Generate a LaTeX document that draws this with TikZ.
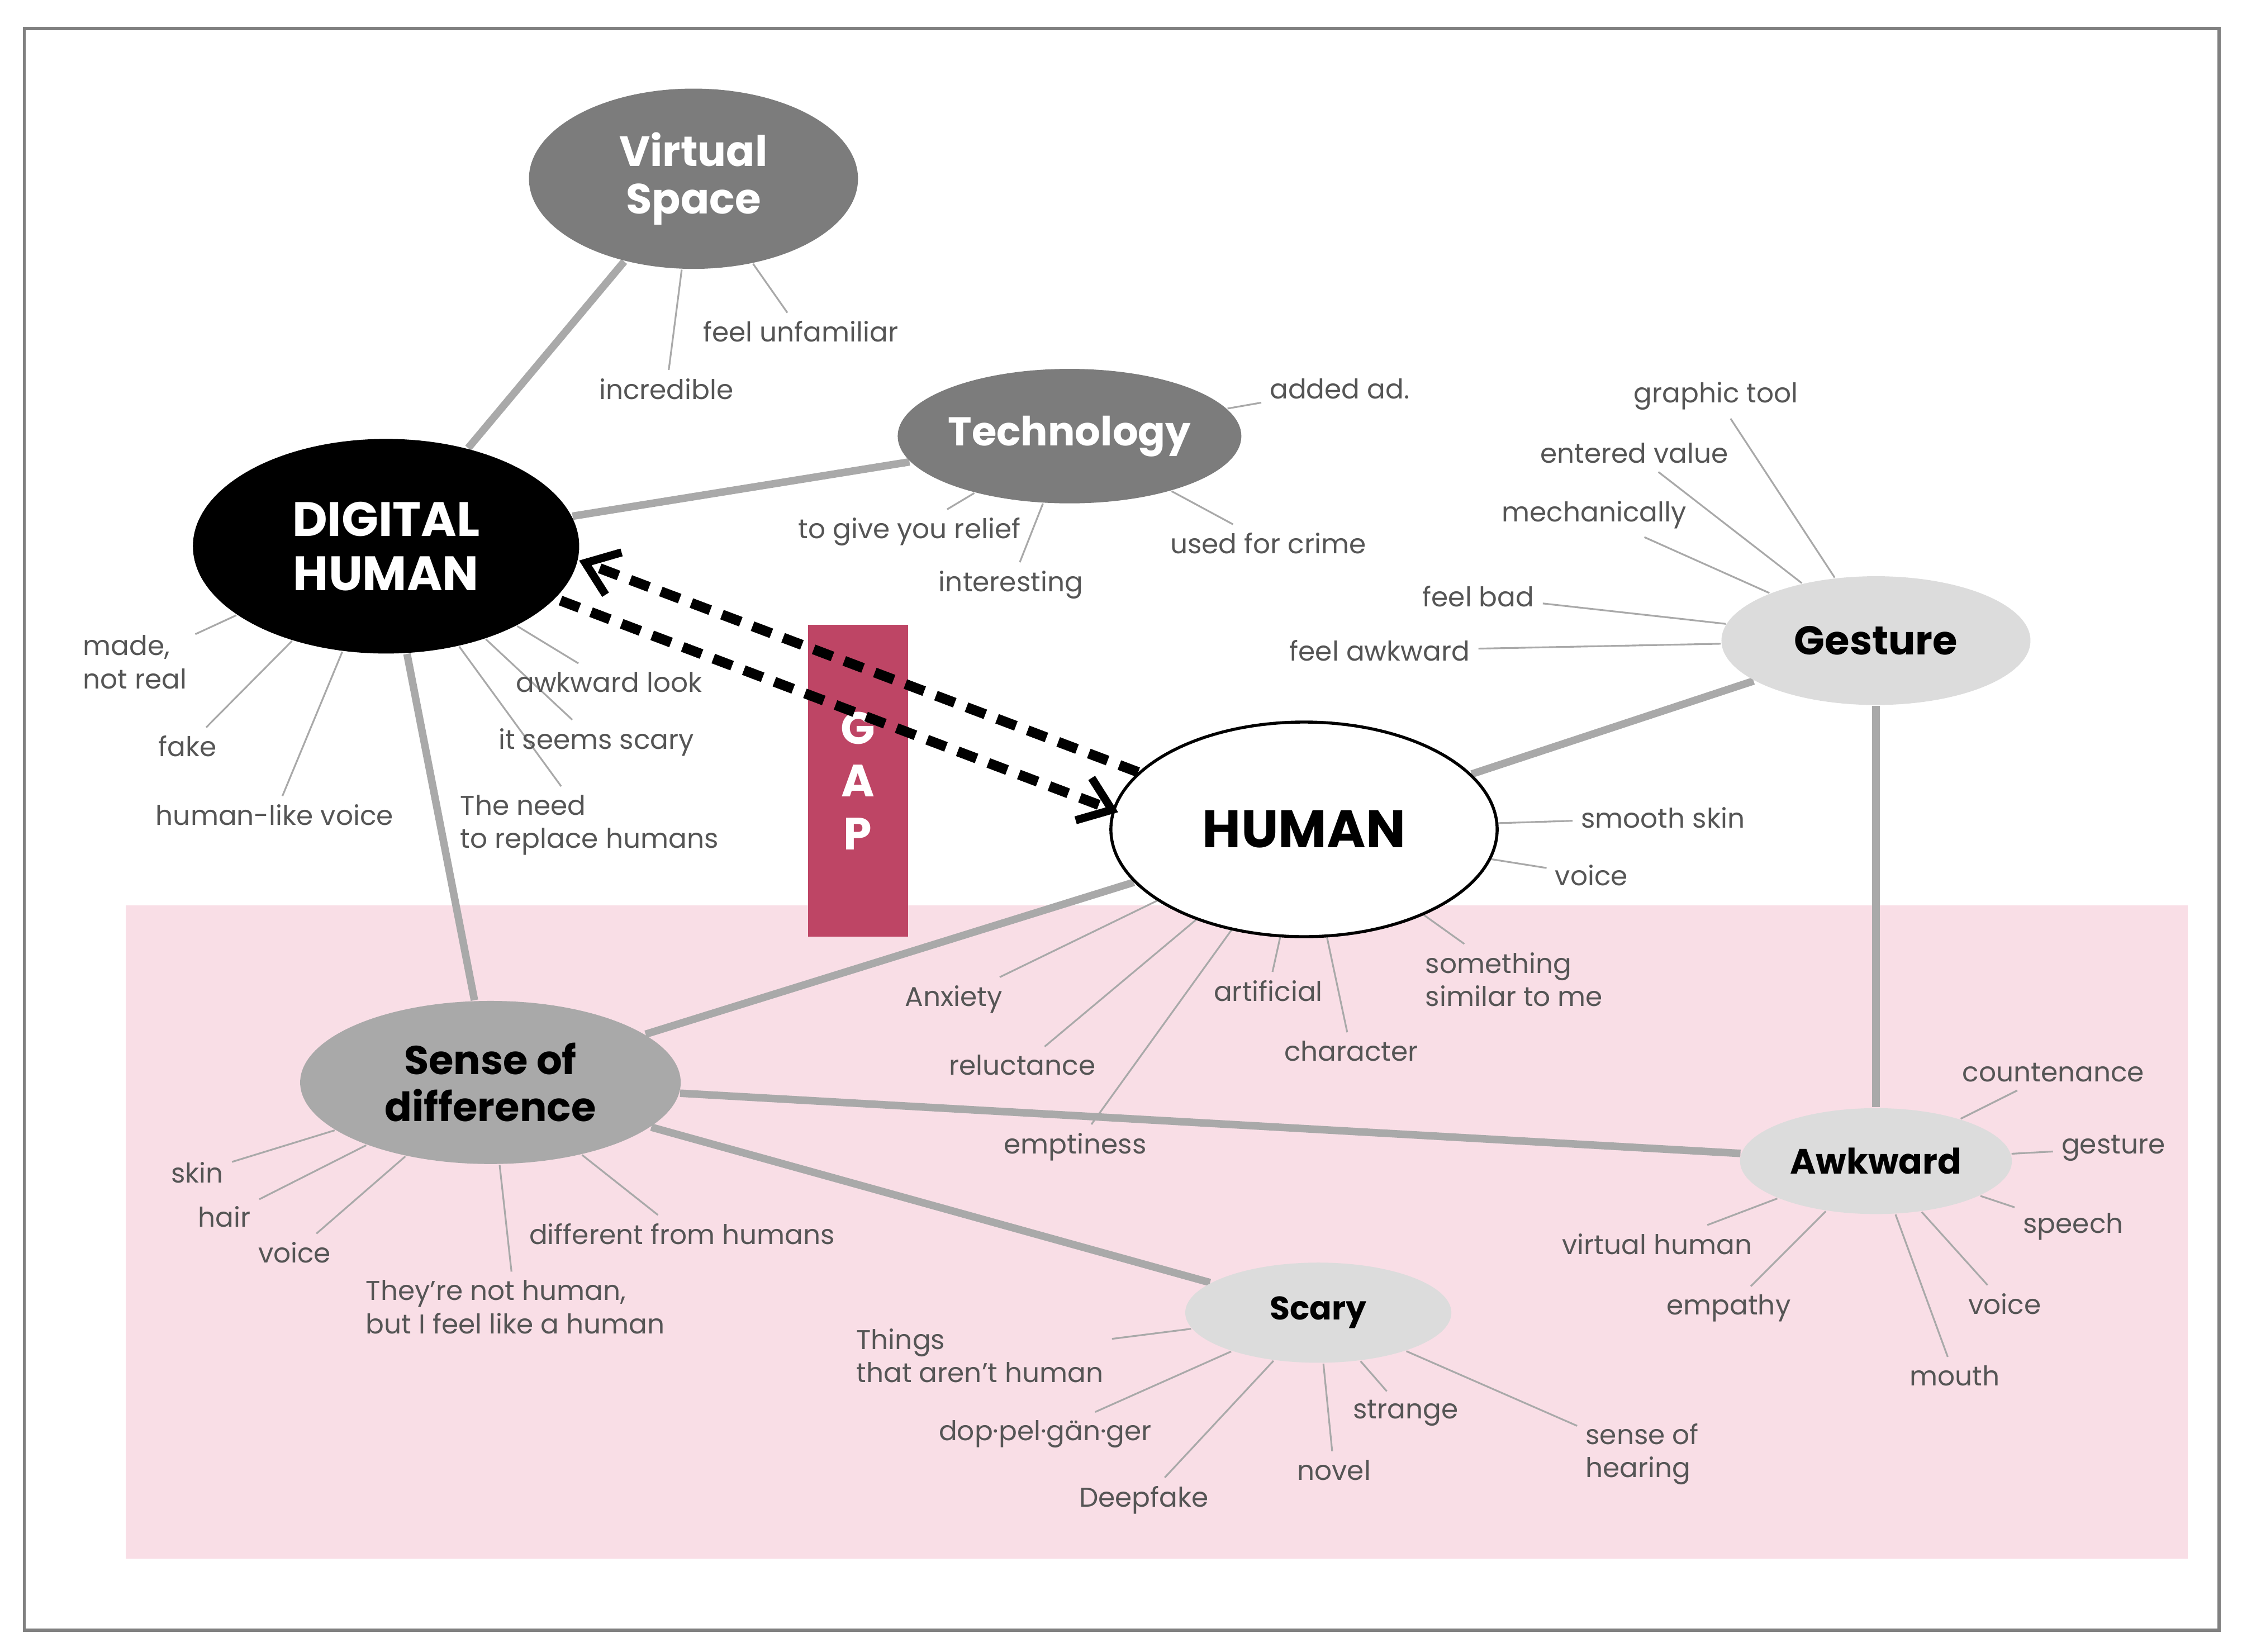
\documentclass[tikz,border=0pt]{standalone}
\usepackage{fontspec}
\setmainfont{Poppins}
\usetikzlibrary{shapes.geometric,arrows.meta,backgrounds}
\definecolor{lbl}{HTML}{555555}
\definecolor{dk}{HTML}{7C7C7C}
\definecolor{md}{HTML}{A9A9A9}
\definecolor{lt}{HTML}{DCDCDC}
\definecolor{pinkbg}{HTML}{F9DEE6}
\definecolor{gapc}{HTML}{BE4565}
\pgfdeclarelayer{bg0}
\pgfsetlayers{bg0,background,main}
\begin{document}
\begin{tikzpicture}[x=0.01cm,y=-0.01cm,
 el/.style={ellipse,inner sep=0pt,align=center,font=\bfseries},
 lab/.style={text=lbl,font=\fontsize{5.4pt}{6.6pt}\selectfont,inner sep=1.5pt,align=left},
 leaf/.style={draw=md,line width=0.35pt},
 big/.style={draw=md,line width=1.5pt},
 dsh/.style={line width=2pt,dash pattern=on 4pt off 2.5pt}]
\useasboundingbox (0,0) rectangle (1568,1155);
\begin{pgfonlayer}{bg0}
\draw[draw=gray,line width=0.6pt] (17,20) rectangle (1552,1140);
\fill[pinkbg] (88,633) rectangle (1530,1090);
\end{pgfonlayer}
% main nodes
\node[el,fill=dk,text=white,minimum width=2.3cm,minimum height=1.26cm,font=\bfseries\fontsize{8.4pt}{9.5pt}\selectfont] (vs) at (485,125) {Virtual\\Space};
\node[el,fill=dk,text=white,minimum width=2.3cm,minimum height=0.94cm,font=\bfseries\fontsize{8pt}{9pt}\selectfont] (tech) at (748,305) {Technology};
\node[el,fill=black,text=white,minimum width=2.7cm,minimum height=1.5cm,font=\bfseries\fontsize{9.6pt}{10.8pt}\selectfont] (dh) at (270,382) {DIGITAL\\HUMAN};
\node[el,fill=white,draw=black,line width=0.6pt,minimum width=2.7cm,minimum height=1.5cm,font=\bfseries\fontsize{10.5pt}{12pt}\selectfont] (hu) at (912,580) {HUMAN};
\node[el,fill=lt,minimum width=2.16cm,minimum height=0.9cm,font=\bfseries\fontsize{8pt}{9pt}\selectfont] (ge) at (1312,448) {Gesture};
\node[el,fill=md,minimum width=2.66cm,minimum height=1.14cm,font=\bfseries\fontsize{8pt}{9.3pt}\selectfont] (sd) at (343,757) {Sense of\\difference};
\node[el,fill=lt,minimum width=1.9cm,minimum height=0.74cm,font=\bfseries\fontsize{7pt}{8pt}\selectfont] (aw) at (1312,812) {Awkward};
\node[el,fill=lt,minimum width=1.86cm,minimum height=0.7cm,font=\bfseries\fontsize{6.5pt}{7.5pt}\selectfont] (sc) at (922,918) {Scary};
% GAP
\node[fill=gapc,minimum width=0.7cm,minimum height=2.18cm,inner sep=0pt,text=white,font=\bfseries\fontsize{9pt}{10.5pt}\selectfont,align=center] (gap) at (600,546) {G\\A\\P};
% dashed arrows
\coordinate (a1) at (392,420);
\coordinate (a2) at (782,568);
\coordinate (b1) at (796,540);
\coordinate (b2) at (405,392);
\draw[dsh,-{Straight Barb[length=6pt,width=9pt,line width=1.6pt]}] (a1) -- (a2);
\draw[dsh,-{Straight Barb[length=6pt,width=9pt,line width=1.6pt]}] (b1) -- (b2);
% labels
\node[lab] (v1) at (560,232) {feel unfamiliar};
\node[lab] (v2) at (466,272) {incredible};
\node[lab] (t1) at (937,272) {added ad.};
\node[lab] (t2) at (636,372) {to give you relief};
\node[lab] (t3) at (707,409) {interesting};
\node[lab] (t4) at (887,380) {used for crime};
\node[lab,anchor=west] (d1) at (52,463) {made,\\not real};
\node[lab] (d2) at (131,522) {fake};
\node[lab] (d3) at (192,570) {human-like voice};
\node[lab] (d4) at (426,477) {awkward look};
\node[lab] (d5) at (417,519) {it seems scary};
\node[lab,anchor=west] (d6) at (316,577) {The need\\to replace humans};
\node[lab] (g1) at (1200,277) {graphic tool};
\node[lab] (g2) at (1143,317) {entered value};
\node[lab] (g3) at (1115,360) {mechanically};
\node[lab] (g4) at (1034,417) {feel bad};
\node[lab] (g5) at (965,455) {feel awkward};
\node[lab] (h1) at (1163,572) {smooth skin};
\node[lab] (h2) at (1113,612) {voice};
\node[lab] (h3) at (667,699) {Anxiety};
\node[lab] (h4) at (715,745) {reluctance};
\node[lab] (h5) at (752,802) {emptiness};
\node[lab] (h6) at (887,693) {artificial};
\node[lab] (h7) at (945,735) {character};
\node[lab,anchor=west] (h8) at (991,685) {something\\similar to me};
\node[lab] (s1) at (138,820) {skin};
\node[lab] (s2) at (157,851) {hair};
\node[lab] (s3) at (206,876) {voice};
\node[lab,anchor=west] (s4) at (250,914) {They’re not human,\\but I feel like a human};
\node[lab] (s5) at (477,863) {different from humans};
\node[lab] (k1) at (1436,750) {countenance};
\node[lab] (k2) at (1478,803) {gesture};
\node[lab] (k3) at (1450,858) {speech};
\node[lab] (k4) at (1402,912) {voice};
\node[lab] (k5) at (1367,962) {mouth};
\node[lab] (k6) at (1159,870) {virtual human};
\node[lab] (k7) at (1209,915) {empathy};
\node[lab,anchor=west] (c1) at (593,948) {Things\\that aren't human};
\node[lab] (c2) at (731,1003) {dop·pel·gän·ger};
\node[lab] (c3) at (800,1049) {Deepfake};
\node[lab] (c4) at (933,1028) {novel};
\node[lab] (c5) at (983,988) {strange};
\node[lab,anchor=west] (c6) at (1103,1017) {sense of\\hearing};
\begin{pgfonlayer}{background}
\draw[big] (dh) -- (vs);
\draw[big] (dh) -- (tech);
\draw[big] (dh) -- (sd);
\draw[big] (hu) -- (ge);
\draw[big] (ge) -- (aw);
\draw[big] (hu) -- (sd);
\draw[big] (sd) -- (aw);
\draw[big] (sd) -- (sc);
\draw[leaf] (vs) -- (v1); \draw[leaf] (vs) -- (v2);
\foreach \n in {t1,t2,t3,t4} \draw[leaf] (tech) -- (\n);
\foreach \n in {d1,d2,d3,d4,d5,d6} \draw[leaf] (dh) -- (\n);
\foreach \n in {g1,g2,g3,g4,g5} \draw[leaf] (ge) -- (\n);
\foreach \n in {h1,h2,h3,h4,h5,h6,h7,h8} \draw[leaf] (hu) -- (\n);
\foreach \n in {s1,s2,s3,s4,s5} \draw[leaf] (sd) -- (\n);
\foreach \n in {k1,k2,k3,k4,k5,k6,k7} \draw[leaf] (aw) -- (\n);
\foreach \n in {c1,c2,c3,c4,c5,c6} \draw[leaf] (sc) -- (\n);
\end{pgfonlayer}
\end{tikzpicture}
\end{document}
